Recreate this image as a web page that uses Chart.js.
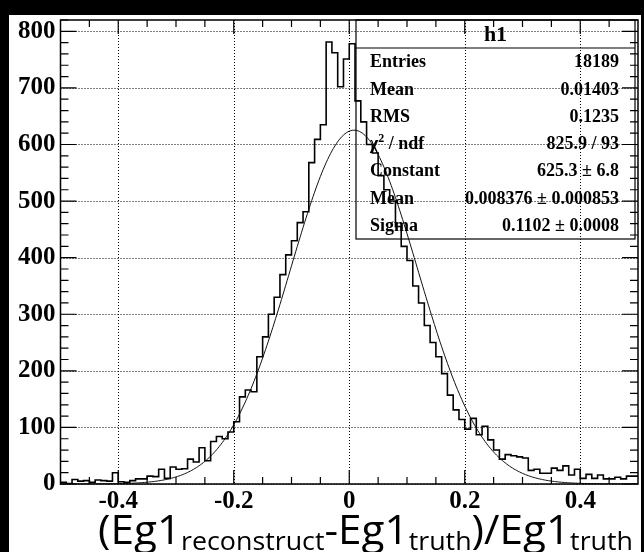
<!DOCTYPE html>
<html>
<head>
<meta charset="utf-8">
<script src="https://cdn.jsdelivr.net/npm/chart.js@4.4.1/dist/chart.umd.min.js"></script>
<style>
  html, body { margin: 0; padding: 0; background: #000; }
  canvas { display: block; }
</style>
</head>
<body>
<canvas id="c" width="644" height="552"></canvas>
<script>
// Histogram binning
const binLow = -0.5;
const binHigh = 0.5;
const binWidth = 0.01;

// Bin contents, 100 bins from -0.5 to 0.5
const binCounts = [
  2, 3, 1, 8, 5, 6, 3, 7, 6, 5,
  20, 4, 3, 6, 9, 9, 14, 13, 26, 10,
  30, 26, 27, 44, 39, 64, 41, 75, 84, 80,
  92, 110, 154, 166, 163, 225, 260, 300, 330, 370,
  405, 430, 462, 481, 568, 609, 635, 781, 762, 702,
  751, 778, 677, 640, 600, 585, 545, 520, 500, 455,
  420, 395, 350, 320, 280, 250, 225, 195, 157, 131,
  114, 97, 116, 87, 102, 78, 60, 44, 52, 50,
  48, 46, 24, 26, 19, 19, 28, 24, 32, 16,
  26, 10, 17, 10, 16, 9, 9, 12, 9, 14
];

// Gaussian fit parameters
const fitConstant = 625.3;
const fitMean = 0.008376;
const fitSigma = 0.1102;

// Axis tick labels
const xTickValues = [-0.4, -0.2, 0, 0.2, 0.4];
const yTickValues = [0, 100, 200, 300, 400, 500, 600, 700, 800];
const yMax = 820;

// Statistics box
const statsTitle = 'h1';
const statsLabels = ['Entries', 'Mean', 'RMS', 'CHI2', 'Constant', 'Mean', 'Sigma'];
const statsValues = ['18189', '0.01403', '0.1235', '825.9 / 93', '625.3 \u00b1 6.8', '0.008376 \u00b1 0.000853', '0.1102 \u00b1 0.0008'];

// Axis title pieces: [text, isSubscript]
const xTitleParts = [
  ['(Eg1', false], ['reconstruct', true], ['-Eg1', false], ['truth', true], [')/Eg1', false], ['truth', true]
];

// ---- derived series ----
const histPoints = [{ x: binLow, y: 0 }];
binCounts.forEach((v, i) => histPoints.push({ x: binLow + i * binWidth, y: v }));
histPoints.push({ x: binHigh, y: binCounts[binCounts.length - 1] });

const fitPoints = [];
for (let i = 0; i <= 400; i++) {
  const x = binLow + (binHigh - binLow) * i / 400;
  const u = (x - fitMean) / fitSigma;
  fitPoints.push({ x: x, y: fitConstant * Math.exp(-0.5 * u * u) });
}

const serifBold = '"Liberation Serif", "Times New Roman", serif';

const paperPlugin = {
  id: 'paper',
  beforeDraw(chart) {
    const ctx = chart.ctx;
    ctx.save();
    ctx.fillStyle = '#000';
    ctx.fillRect(0, 0, chart.width, chart.height);
    ctx.fillStyle = '#fff';
    ctx.fillRect(9, 15, 632, 537);
    ctx.restore();
  },
  beforeDatasetsDraw(chart) {
    // dotted grid at labelled ticks
    const { ctx, chartArea: a, scales: { x, y } } = chart;
    ctx.save();
    ctx.strokeStyle = '#000';
    ctx.lineWidth = 1;
    ctx.setLineDash([1, 2]);
    xTickValues.forEach(v => {
      const px = Math.round(x.getPixelForValue(v)) + 0.5;
      ctx.beginPath(); ctx.moveTo(px, a.top); ctx.lineTo(px, a.bottom); ctx.stroke();
    });
    yTickValues.forEach(v => {
      const py = Math.round(y.getPixelForValue(v)) + 0.5;
      ctx.beginPath(); ctx.moveTo(a.left, py); ctx.lineTo(a.right, py); ctx.stroke();
    });
    ctx.restore();
  },
  afterDraw(chart) {
    const { ctx, chartArea: a, scales: { x, y } } = chart;
    ctx.save();
    ctx.strokeStyle = '#000';
    ctx.setLineDash([]);
    // frame
    ctx.lineWidth = 1.5;
    ctx.strokeRect(a.left, a.top, a.right - a.left, a.bottom - a.top);
    // ticks on all four sides, pointing inwards
    ctx.lineWidth = 1.2;
    for (let k = -9; k <= 9; k++) {
      const v = k * 0.05;
      const major = Math.abs(k) % 4 === 0;
      const len = major ? 14 : 7;
      const px = x.getPixelForValue(v);
      ctx.beginPath();
      ctx.moveTo(px, a.bottom); ctx.lineTo(px, a.bottom - len);
      ctx.moveTo(px, a.top); ctx.lineTo(px, a.top + len);
      ctx.stroke();
    }
    for (let v = 0; v <= yMax; v += 20) {
      const major = v % 100 === 0;
      const len = major ? 16 : 8;
      const py = y.getPixelForValue(v);
      ctx.beginPath();
      ctx.moveTo(a.left, py); ctx.lineTo(a.left + len, py);
      ctx.moveTo(a.right, py); ctx.lineTo(a.right - len, py);
      ctx.stroke();
    }

    // statistics box
    const bx1 = 356, by1 = a.top, bx2 = 635, by2 = 239, titleH = 28;
    ctx.lineWidth = 1.2;
    ctx.strokeRect(bx1, by1, bx2 - bx1, by2 - by1);
    ctx.beginPath(); ctx.moveTo(bx1, by1 + titleH); ctx.lineTo(bx2, by1 + titleH); ctx.stroke();
    ctx.fillStyle = '#000';
    ctx.textBaseline = 'middle';
    ctx.textAlign = 'center';
    ctx.font = 'bold 22px ' + serifBold;
    ctx.fillText(statsTitle, (bx1 + bx2) / 2, by1 + titleH / 2 + 1);
    const rowH = (by2 - by1 - titleH) / statsLabels.length;
    ctx.font = 'bold 18px ' + serifBold;
    statsLabels.forEach((lab, i) => {
      const cy = by1 + titleH + rowH * (i + 0.5) + 1;
      ctx.textAlign = 'left';
      if (lab === 'CHI2') {
        ctx.fillText('\u03c7', bx1 + 14, cy);
        const w = ctx.measureText('\u03c7').width;
        ctx.font = 'bold 12px ' + serifBold;
        ctx.fillText('2', bx1 + 14 + w, cy - 6);
        const w2 = ctx.measureText('2').width;
        ctx.font = 'bold 18px ' + serifBold;
        ctx.fillText(' / ndf', bx1 + 14 + w + w2, cy);
      } else {
        ctx.fillText(lab, bx1 + 14, cy);
      }
      ctx.textAlign = 'right';
      ctx.fillText(statsValues[i], bx2 - 16, cy);
    });

    // x axis title with subscripts
    const mainFont = '41px "Open Sans", sans-serif';
    const subFont = '26px "Open Sans", sans-serif';
    let total = 0;
    const widths = xTitleParts.map(([t, sub]) => {
      ctx.font = sub ? subFont : mainFont;
      const w = ctx.measureText(t).width;
      total += w;
      return w;
    });
    const targetRight = 633, targetWidth = 535;
    const sx = targetWidth / total;
    ctx.save();
    ctx.translate(targetRight - targetWidth, 0);
    ctx.scale(sx, 1);
    ctx.textAlign = 'left';
    ctx.textBaseline = 'alphabetic';
    let cx = 0;
    xTitleParts.forEach(([t, sub], i) => {
      ctx.font = sub ? subFont : mainFont;
      ctx.fillText(t, cx, sub ? 550 : 544);
      cx += widths[i];
    });
    ctx.restore();
    ctx.restore();
  }
};

new Chart(document.getElementById('c'), {
  type: 'line',
  data: {
    datasets: [
      {
        label: 'h1',
        data: histPoints,
        stepped: 'after',
        borderColor: '#000',
        borderWidth: 1.6,
        pointRadius: 0,
        fill: false,
        order: 2
      },
      {
        label: 'gaus',
        data: fitPoints,
        borderColor: '#111',
        borderWidth: 1,
        pointRadius: 0,
        tension: 0,
        fill: false,
        order: 1
      }
    ]
  },
  options: {
    responsive: false,
    animation: false,
    devicePixelRatio: 1,
    layout: { padding: { left: 0, top: 20, right: 6, bottom: 0 } },
    plugins: { legend: { display: false }, tooltip: { enabled: false }, title: { display: false } },
    scales: {
      x: {
        type: 'linear',
        min: binLow,
        max: binHigh,
        afterBuildTicks: s => { s.ticks = xTickValues.map(v => ({ value: v })); },
        afterFit: s => { s.height = 68; },
        grid: { display: false, drawTicks: false },
        border: { display: false },
        ticks: {
          color: '#000',
          padding: 3,
          maxRotation: 0,
          font: { family: serifBold, size: 25, weight: 'bold' },
          callback: v => (v === 0 ? '0' : v.toFixed(1))
        }
      },
      y: {
        type: 'linear',
        min: 0,
        max: yMax,
        afterBuildTicks: s => { s.ticks = yTickValues.map(v => ({ value: v })); },
        afterFit: s => { s.width = 60.5; },
        grid: { display: false, drawTicks: false },
        border: { display: false },
        ticks: {
          color: '#000',
          padding: 5,
          font: { family: serifBold, size: 25, weight: 'bold' },
          callback: v => String(v)
        }
      }
    }
  },
  plugins: [paperPlugin]
});
</script>
</body>
</html>
